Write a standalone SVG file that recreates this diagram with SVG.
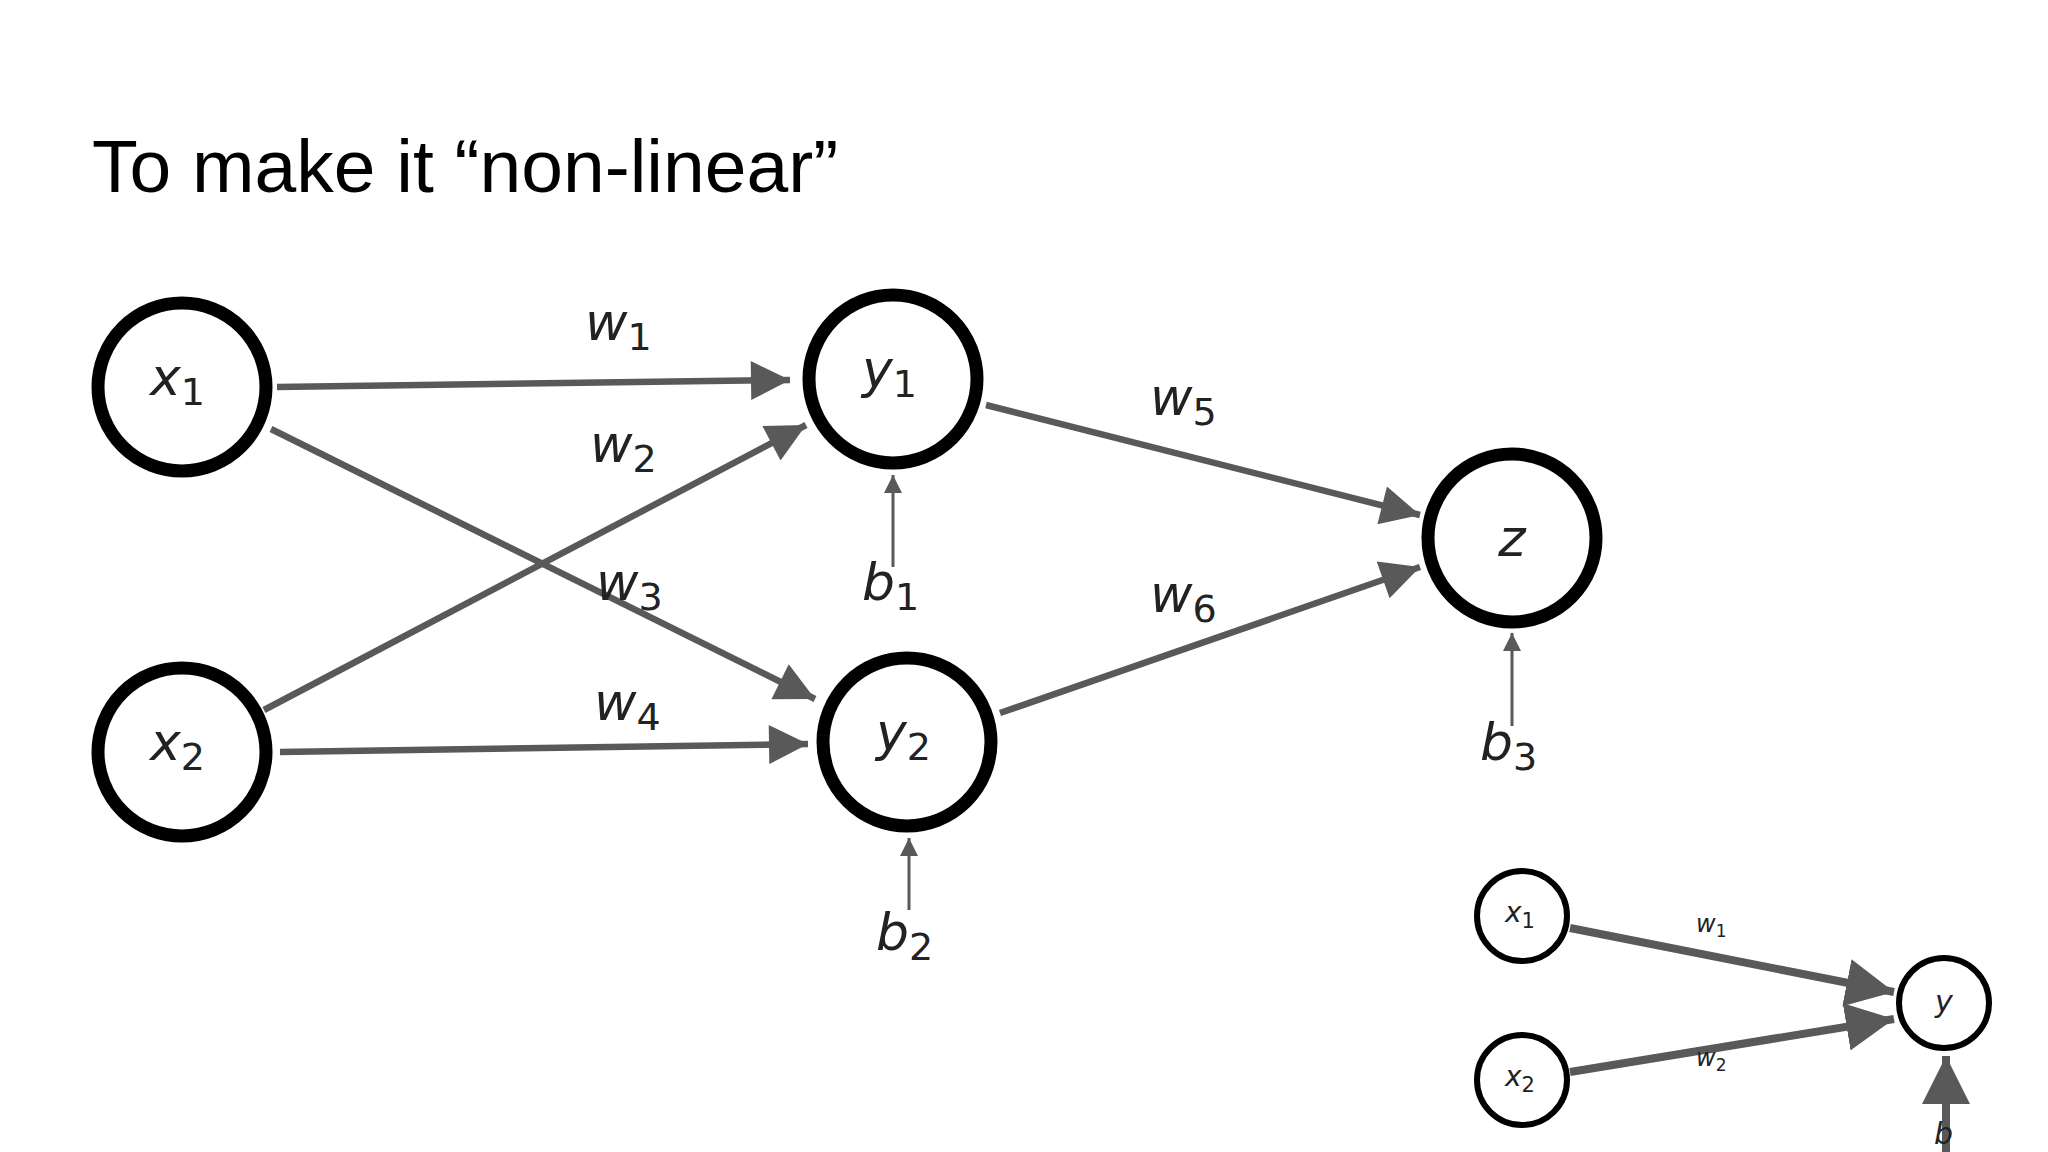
<svg xmlns="http://www.w3.org/2000/svg" width="2048" height="1152" viewBox="0 0 2048 1152">
<defs>
<style>
.n{fill:#fff;stroke:#000;stroke-width:13}
.s{fill:#fff;stroke:#000;stroke-width:6}
.e{stroke:#595959;stroke-width:6.5;fill:none}
.t{font-family:"DejaVu Sans",sans-serif;font-style:oblique;fill:#222}
.sub{font-style:normal}
</style>
<marker id="a" viewBox="0 0 10 10" refX="10" refY="5" markerWidth="7" markerHeight="6" orient="auto" markerUnits="strokeWidth"><path d="M0,0L10,5L0,10z" fill="#595959"/></marker>
<marker id="ab" viewBox="0 0 10 10" refX="10" refY="5" markerWidth="6" markerHeight="6" orient="auto" markerUnits="strokeWidth"><path d="M0,0L10,5L0,10z" fill="#595959"/></marker>
</defs>
<rect width="2048" height="1152" fill="#fff"/>
<text x="92" y="192" font-family="Liberation Sans,Arial,sans-serif" font-size="75" fill="#000">To make it “non-linear”</text>
<g id="connectors">
<line class="e" x1="277" y1="387" x2="790" y2="380" marker-end="url(#a)"/>
<line class="e" x1="271" y1="429" x2="815" y2="699" marker-end="url(#a)"/>
<line class="e" x1="264" y1="710" x2="806" y2="425" marker-end="url(#a)"/>
<line class="e" x1="280" y1="752" x2="808" y2="744" marker-end="url(#a)"/>
<line class="e" x1="986" y1="405" x2="1420" y2="515" marker-end="url(#a)"/>
<line class="e" x1="1000" y1="713" x2="1420" y2="567" marker-end="url(#a)"/>
<line class="e" style="stroke-width:3" x1="893" y1="567" x2="893" y2="475" marker-end="url(#a)"/>
<line class="e" style="stroke-width:3" x1="909" y1="910" x2="909" y2="838" marker-end="url(#a)"/>
<line class="e" style="stroke-width:3" x1="1512" y1="726" x2="1512" y2="633" marker-end="url(#a)"/>
<line class="e" style="stroke-width:8" x1="1570" y1="928" x2="1894" y2="992" marker-end="url(#ab)"/>
<line class="e" style="stroke-width:8" x1="1570" y1="1072" x2="1894" y2="1019" marker-end="url(#ab)"/>
<line class="e" style="stroke-width:8" x1="1946" y1="1152" x2="1946" y2="1056" marker-end="url(#ab)"/>
</g>
<g class="t" font-size="52">
<text x="585" y="340">w<tspan class="sub" font-size="38" dy="10">1</tspan></text>
<text x="590" y="462">w<tspan class="sub" font-size="38" dy="10">2</tspan></text>
<text x="596" y="600">w<tspan class="sub" font-size="38" dy="10">3</tspan></text>
<text x="594" y="720">w<tspan class="sub" font-size="38" dy="10">4</tspan></text>
<text x="1150" y="415">w<tspan class="sub" font-size="38" dy="10">5</tspan></text>
<text x="1150" y="612">w<tspan class="sub" font-size="38" dy="10">6</tspan></text>
<text x="862" y="600">b<tspan class="sub" font-size="38" dy="10">1</tspan></text>
<text x="876" y="950">b<tspan class="sub" font-size="38" dy="10">2</tspan></text>
<text x="1480" y="760">b<tspan class="sub" font-size="38" dy="10">3</tspan></text>
</g>
<g id="x1"><circle class="n" cx="182" cy="387" r="84"/><text class="t" x="150" y="395" font-size="52">x<tspan class="sub" font-size="38" dy="10">1</tspan></text></g>
<g id="x2"><circle class="n" cx="182" cy="752" r="84"/><text class="t" x="150" y="760" font-size="52">x<tspan class="sub" font-size="38" dy="10">2</tspan></text></g>
<g id="y1"><circle class="n" cx="893" cy="379" r="84"/><text class="t" x="862" y="387" font-size="52">y<tspan class="sub" font-size="38" dy="10">1</tspan></text></g>
<g id="y2"><circle class="n" cx="907" cy="742" r="84"/><text class="t" x="876" y="750" font-size="52">y<tspan class="sub" font-size="38" dy="10">2</tspan></text></g>
<g id="z"><circle class="n" cx="1512" cy="538" r="84"/><text class="t" x="1512" y="556" font-size="52" text-anchor="middle">z</text></g>
<g id="sx1"><circle class="s" cx="1522" cy="916" r="45"/><text class="t" x="1505" y="922" font-size="28">x<tspan class="sub" font-size="21" dy="6">1</tspan></text></g>
<g id="sx2"><circle class="s" cx="1522" cy="1080" r="45"/><text class="t" x="1505" y="1086" font-size="28">x<tspan class="sub" font-size="21" dy="6">2</tspan></text></g>
<g id="sy"><circle class="s" cx="1944" cy="1003" r="45"/><text class="t" x="1944" y="1012" font-size="30" text-anchor="middle">y</text></g>
<g class="t" font-size="24">
<text x="1696" y="932">w<tspan class="sub" font-size="17" dy="5">1</tspan></text>
<text x="1696" y="1066">w<tspan class="sub" font-size="17" dy="5">2</tspan></text>
<text x="1934" y="1144" font-size="30">b</text>
</g>
</svg>
